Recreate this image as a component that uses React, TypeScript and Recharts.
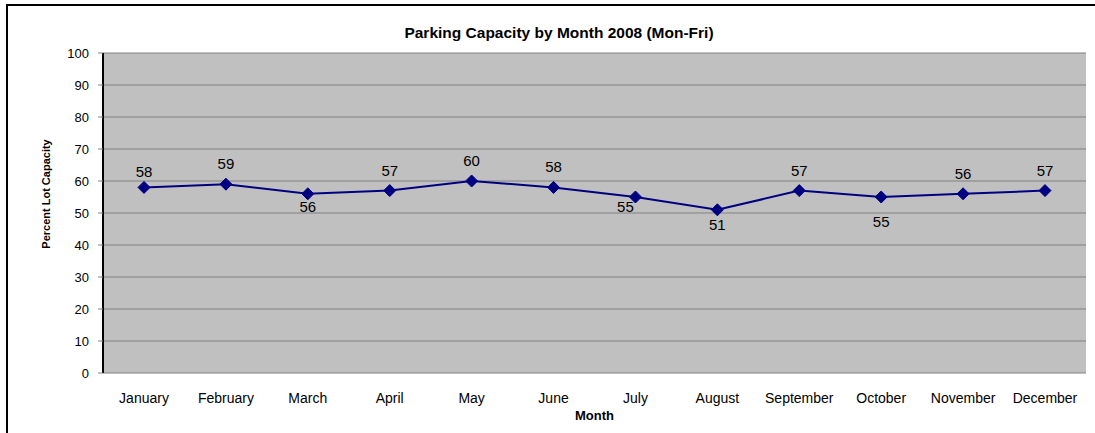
import React from 'react';
import { LineChart, Line, XAxis, YAxis, CartesianGrid } from 'recharts';

const months = [
  'January', 'February', 'March', 'April', 'May', 'June',
  'July', 'August', 'September', 'October', 'November', 'December',
];
const capacity = [58, 59, 56, 57, 60, 58, 55, 51, 57, 55, 56, 57];
const yTicks = [0, 10, 20, 30, 40, 50, 60, 70, 80, 90, 100];
const monthEdges = [0, 1, 2, 3, 4, 5, 6, 7, 8, 9, 10, 11, 12];

// value label nudges (dx, dy from the marker); default is above the marker
const labelShift: Record<string, [number, number]> = {
  January: [0, -10],
  March: [0, 18],
  July: [-10, 15],
  August: [0, 20],
  October: [0, 30],
};

const FONT = '"Liberation Sans", Arial, sans-serif';
const NAVY = '#000080';

const data = months.map((month, i) => ({ month, value: capacity[i] }));

function DiamondDot(props: any) {
  const { cx, cy, payload, value } = props;
  if (cx == null || cy == null) return null;
  const s = 6;
  const [dx, dy] = labelShift[payload.month] || [0, -15];
  return (
    <g>
      <path
        d={`M${cx},${cy - s} L${cx + s},${cy} L${cx},${cy + s} L${cx - s},${cy} Z`}
        fill={NAVY}
        stroke={NAVY}
      />
      <text x={cx + dx} y={cy + dy} textAnchor="middle" fontSize={15} fontFamily={FONT} fill="#000">
        {value}
      </text>
    </g>
  );
}

function YTitle(props: any) {
  const vb = props.viewBox || {};
  const x = 46;
  const y = vb.y + vb.height / 2 - 19;
  return (
    <text
      x={x}
      y={y}
      transform={`rotate(-90, ${x}, ${y})`}
      textAnchor="middle"
      dominantBaseline="central"
      fontSize={11}
      fontWeight="bold"
      fontFamily={FONT}
      fill="#000"
    >
      Percent Lot Capacity
    </text>
  );
}

export default function App() {
  return (
    <div
      style={{
        position: 'absolute',
        left: 0,
        top: 0,
        width: 1095,
        height: 433,
        overflow: 'hidden',
        background: '#fff',
        fontFamily: FONT,
      }}
    >
      <div
        style={{
          position: 'absolute',
          left: 6,
          top: 4,
          width: 1200,
          height: 600,
          border: '2px solid #000',
        }}
      />
      <div
        style={{
          position: 'absolute',
          left: 0,
          top: 24,
          width: 1118,
          textAlign: 'center',
          fontSize: 15.5,
          fontWeight: 'bold',
          lineHeight: '18px',
        }}
      >
        Parking Capacity by Month 2008 (Mon-Fri)
      </div>
      <div style={{ position: 'absolute', left: 0, top: 0 }}>
        <LineChart
          width={1095}
          height={433}
          data={data}
          margin={{ top: 53, right: 9, bottom: 0, left: 0 }}
        >
          <CartesianGrid
            xAxisId="cat"
            vertical={false}
            fill="#C0C0C0"
            fillOpacity={1}
            stroke="#808080"
            strokeWidth={1}
          />
          <XAxis
            xAxisId="edges"
            type="number"
            domain={[0, 12]}
            ticks={monthEdges}
            height={0}
            tick={() => null}
            tickSize={5}
            tickLine={{ stroke: '#808080' }}
            axisLine={{ stroke: '#000', strokeWidth: 2 }}
          />
          <XAxis
            xAxisId="cat"
            dataKey="month"
            height={60}
            padding={{ left: 41, right: 41 }}
            axisLine={false}
            tickLine={false}
            tickMargin={14}
            interval={0}
            tick={{ fontSize: 14, fill: '#000', fontFamily: FONT }}
            label={{
              value: 'Month',
              position: 'insideBottom',
              offset: 13,
              fontSize: 13,
              fontWeight: 'bold',
              fill: '#000',
              fontFamily: FONT,
            }}
          />
          <YAxis
            domain={[0, 100]}
            ticks={yTicks}
            width={103}
            interval={0}
            tickSize={5}
            tickMargin={9}
            axisLine={{ stroke: '#000', strokeWidth: 2 }}
            tickLine={{ stroke: '#808080' }}
            tick={{ fontSize: 13, fill: '#000', fontFamily: FONT }}
            label={<YTitle />}
          />
          <YAxis
            yAxisId="r"
            orientation="right"
            domain={[0, 100]}
            width={0}
            tick={false}
            tickLine={false}
            axisLine={{ stroke: '#808080', strokeWidth: 2 }}
          />
          <Line
            xAxisId="cat"
            type="linear"
            dataKey="value"
            stroke={NAVY}
            strokeWidth={2}
            dot={<DiamondDot />}
            activeDot={false}
            isAnimationActive={false}
          />
        </LineChart>
      </div>
    </div>
  );
}
